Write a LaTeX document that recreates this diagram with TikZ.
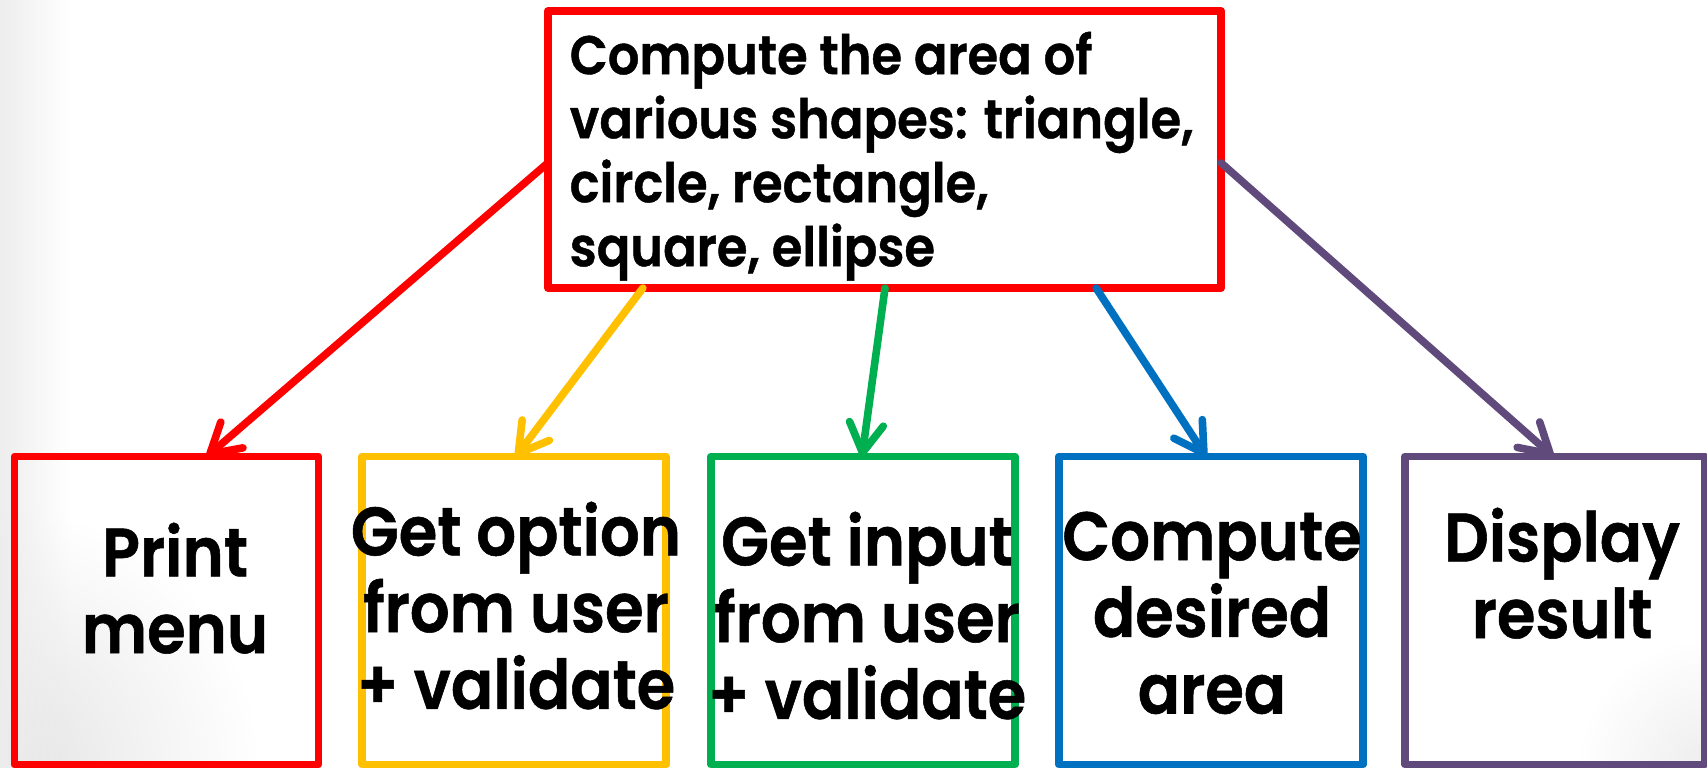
\documentclass[tikz,border=0pt]{standalone}
\usepackage{fontspec}
\setmainfont{Poppins}[FakeStretch=0.91, BoldFont={Poppins SemiBold}, BoldFeatures={FakeBold=0.8}]
\usetikzlibrary{arrows.meta,fadings}
\definecolor{cRed}{HTML}{FF0000}
\definecolor{cYel}{HTML}{FFC000}
\definecolor{cGrn}{HTML}{00B050}
\definecolor{cBlu}{HTML}{0070C0}
\definecolor{cPur}{HTML}{604A7B}
\tikzfading[name=faderight, left color=transparent!0, right color=transparent!100]
\tikzfading[name=faderad, inner color=transparent!0, outer color=transparent!100]
\begin{document}
\begin{tikzpicture}[x=0.01cm,y=-0.01cm,
  boxnode/.style={draw, line width=0.077cm, line join=round, inner sep=0, outer sep=0,
                  minimum width=3.04cm, minimum height=3.08cm},
  topbox/.style={draw, line width=0.077cm, line join=round, inner sep=0, outer sep=0,
                  minimum width=6.73cm, minimum height=2.77cm},
  conn/.style={line width=0.076cm, line cap=round,
               -{Straight Barb[length=0.29cm,width=0.34cm,round]}},
  toptext/.style={inner sep=0, align=left, anchor=north west,
                  font=\fontsize{15.5}{18.2}\selectfont\bfseries},
  lowtext/.style={inner sep=0, align=center, anchor=north,
                  font=\fontsize{19.5}{21.8}\selectfont\bfseries}]
\useasboundingbox (0,0) rectangle (1707,768);
% slide background
\fill[black!11, path fading=faderad] (0,768) circle (260);
\fill[black!7, path fading=faderight] (0,0) rectangle (70,768);
\fill[black!7, path fading=faderad] (1707,768) circle (130);
% boxes
\node[topbox, cRed] (top) at (884.5,149.5) {};
\node[boxnode, cRed] (b1) at (166.5,610.5) {};
\node[boxnode, cYel] (b2) at (514,610.5) {};
\node[boxnode, cGrn] (b3) at (863,610.5) {};
\node[boxnode, cBlu] (b4) at (1211,610.5) {};
\node[boxnode, cPur, minimum width=3.00cm] (b5) at (1555,610.5) {};
% texts
\node[toptext] (ttop) at (569,31) {Compute the area of\\various shapes: triangle,\\circle, rectangle,\\square, ellipse};
\node[lowtext] (t1) at (175,522) {Print\\menu};
\node[lowtext] (t2) at (516,501) {Get option\\from user\\+ validate};
\node[lowtext] (t3) at (867,511) {Get input\\from user\\+ validate};
\node[lowtext] (t4) at (1212,511) {Compute\\desired\\area};
\node[lowtext] (t5) at (1562,507) {Display\\result};
% connectors
\draw[conn, cRed] ([yshift=-1.52cm]top.north west) -- ([xshift=0.405cm]b1.north);
\draw[conn, cYel] ([xshift=0.95cm]top.south west) -- ([xshift=0.02cm]b2.north);
\draw[conn, cGrn] ([xshift=3.37cm]top.south west) -- ([xshift=-0.01cm]b3.north);
\draw[conn, cBlu] ([xshift=5.48cm]top.south west) -- ([xshift=-0.05cm]b4.north);
\draw[conn, cPur] ([yshift=-1.52cm]top.north east) -- ([xshift=-0.02cm]b5.north);
\end{tikzpicture}
\end{document}
